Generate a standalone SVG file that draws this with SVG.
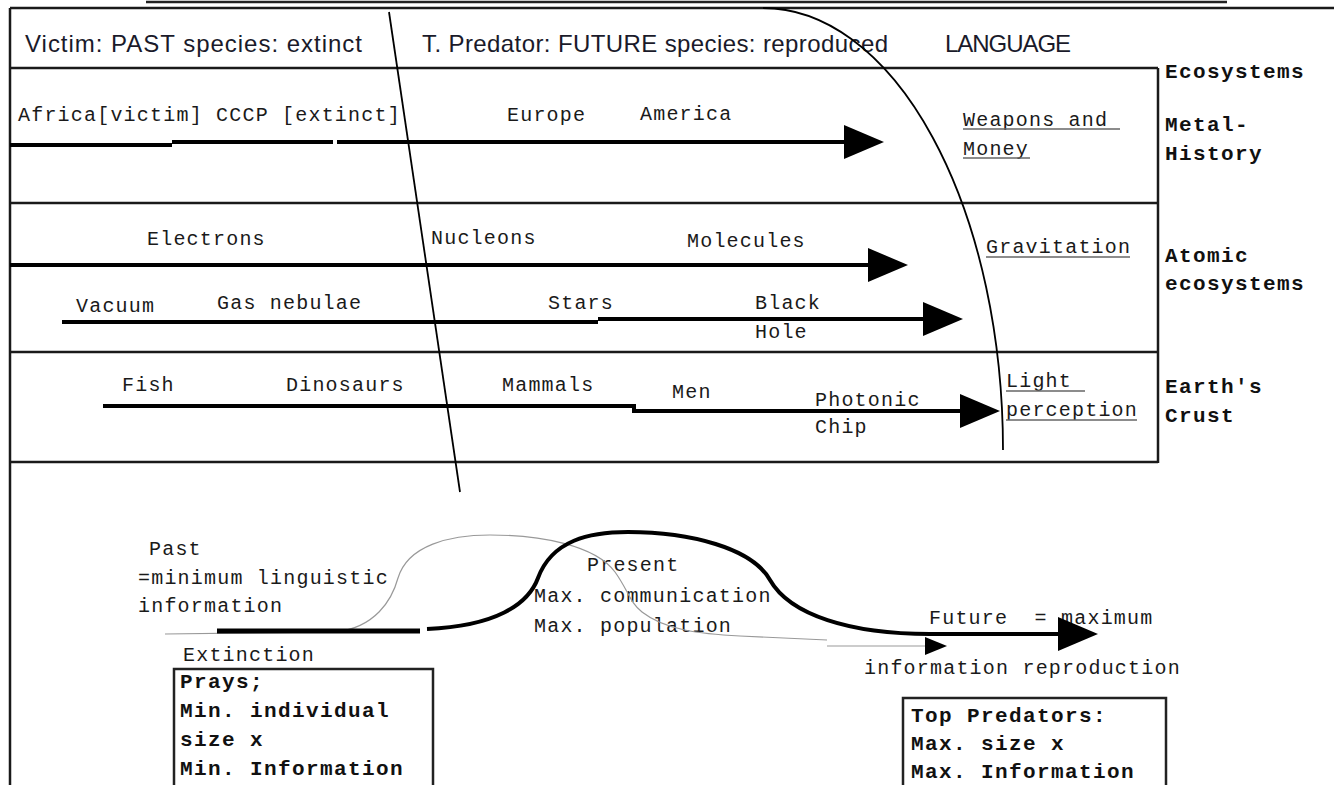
<svg xmlns="http://www.w3.org/2000/svg" width="1334" height="785" viewBox="0 0 1334 785">
<defs>
<style>
.frame{stroke:#1a1a1a;stroke-width:2.5;fill:none}
.sans{font-family:"Liberation Sans",Arial,sans-serif;font-size:24px;fill:#1a1a2a}
.mono{font-family:"Liberation Mono","Courier New",monospace;font-size:20px;letter-spacing:1.2px;fill:#1a1a1a}
.bold{font-family:"Liberation Mono","Courier New",monospace;font-size:21px;font-weight:bold;letter-spacing:1.4px;fill:#111}
.arrow{stroke:#000;stroke-width:4;fill:none}
.thin{stroke:#000;stroke-width:1.8;fill:none}
.faint{stroke:#999;stroke-width:1.2;fill:none}
.ul{stroke:#666;stroke-width:1.5}
</style>
<marker id="ah" markerUnits="userSpaceOnUse" viewBox="0 0 40 34" markerWidth="40" markerHeight="34" refX="0" refY="17" orient="auto">
<polygon points="0,0 40,17 0,34" fill="#000"/>
</marker>
<marker id="ahs" markerUnits="userSpaceOnUse" viewBox="0 0 22 18" markerWidth="22" markerHeight="18" refX="0" refY="9" orient="auto">
<polygon points="0,0 22,9 0,18" fill="#000"/>
</marker>
</defs>
<rect width="1334" height="785" fill="#fff"/>

<g id="frame">
<line x1="146" y1="2" x2="1227" y2="2" stroke="#222" stroke-width="2.5"/>
<line x1="10" y1="8" x2="1334" y2="8" class="frame"/>
<line x1="10" y1="8" x2="10" y2="785" class="frame"/>
<line x1="10" y1="68" x2="1158" y2="68" class="frame"/>
<line x1="1158" y1="68" x2="1158" y2="463" class="frame"/>
<line x1="10" y1="203" x2="1158" y2="203" class="frame"/>
<line x1="10" y1="352" x2="1158" y2="352" class="frame"/>
<line x1="10" y1="462" x2="1158" y2="462" class="frame"/>
</g>

<g id="header">
<text class="sans" x="25" y="52" textLength="337">Victim: PAST species: extinct</text>
<text class="sans" x="422" y="52" textLength="466">T. Predator: FUTURE species: reproduced</text>
<text class="sans" x="945" y="52" textLength="126">LANGUAGE</text>
</g>

<g id="side-labels">
<text class="bold" x="1165" y="78">Ecosystems</text>
<text class="bold" x="1165" y="131">Metal-</text>
<text class="bold" x="1165" y="160">History</text>
<text class="bold" x="1165" y="262">Atomic</text>
<text class="bold" x="1165" y="290">ecosystems</text>
<text class="bold" x="1165" y="393">Earth's</text>
<text class="bold" x="1165" y="422">Crust</text>
</g>

<g id="row-metal">
<text class="mono" x="18" y="121">Africa[victim] CCCP [extinct]</text>
<text class="mono" x="507" y="121">Europe</text>
<text class="mono" x="640" y="120">America</text>
<text class="mono" x="963" y="126">Weapons and</text>
<text class="mono" x="963" y="155">Money</text>
<line x1="963" y1="129" x2="1120" y2="129" class="ul"/>
<line x1="963" y1="158" x2="1030" y2="158" class="ul"/>
</g>

<g id="row-atomic">
<text class="mono" x="147" y="245">Electrons</text>
<text class="mono" x="431" y="244">Nucleons</text>
<text class="mono" x="687" y="247">Molecules</text>
<text class="mono" x="986" y="253">Gravitation</text>
<line x1="986" y1="257" x2="1130" y2="257" class="ul"/>
<text class="mono" x="76" y="312">Vacuum</text>
<text class="mono" x="217" y="309">Gas nebulae</text>
<text class="mono" x="548" y="309">Stars</text>
<text class="mono" x="755" y="309">Black</text>
<text class="mono" x="755" y="338">Hole</text>
</g>

<g id="row-crust">
<text class="mono" x="122" y="391">Fish</text>
<text class="mono" x="286" y="391">Dinosaurs</text>
<text class="mono" x="502" y="391">Mammals</text>
<text class="mono" x="672" y="398">Men</text>
<text class="mono" x="815" y="406">Photonic</text>
<text class="mono" x="815" y="433">Chip</text>
<text class="mono" x="1006" y="387">Light</text>
<text class="mono" x="1006" y="416">perception</text>
<line x1="1006" y1="391" x2="1085" y2="391" class="ul"/>
<line x1="1006" y1="420" x2="1137" y2="420" class="ul"/>
</g>

<g id="lower-labels">
<text class="mono" x="149" y="555">Past</text>
<text class="mono" x="138" y="584">=minimum linguistic</text>
<text class="mono" x="138" y="612">information</text>
<text class="mono" x="183" y="661">Extinction</text>
<text class="mono" x="587" y="571">Present</text>
<text class="mono" x="534" y="602">Max. communication</text>
<text class="mono" x="534" y="632">Max. population</text>
<text class="mono" x="929" y="624" style="white-space:pre">Future  = maximum</text>
<text class="mono" x="864" y="674">information reproduction</text>
</g>

<g id="box-prays">
<rect x="174" y="669" width="259" height="130" fill="none" stroke="#222" stroke-width="2.5"/>
<text class="bold" x="180" y="688">Prays;</text>
<text class="bold" x="180" y="717">Min. individual</text>
<text class="bold" x="180" y="746">size x</text>
<text class="bold" x="180" y="775">Min. Information</text>
</g>

<g id="box-predators">
<rect x="903" y="698" width="263" height="100" fill="none" stroke="#222" stroke-width="2.5"/>
<text class="bold" x="911" y="722">Top Predators:</text>
<text class="bold" x="911" y="750">Max. size x</text>
<text class="bold" x="911" y="778">Max. Information</text>
</g>

<g id="connectors">
<path class="arrow" d="M10 145 L172 145 M172 142 L333 142"/>
<path class="arrow" d="M337 142 L844 142" marker-end="url(#ah)"/>
<path class="arrow" d="M10 265 L868 265" marker-end="url(#ah)"/>
<path class="arrow" d="M62 322 L598 322"/>
<path class="arrow" d="M598 319 L923 319" marker-end="url(#ah)"/>
<path class="arrow" d="M103 406 L634 406 L634 411 L960 411" marker-end="url(#ah)"/>
<line class="thin" x1="389" y1="12" x2="460" y2="492"/>
<path class="thin" d="M763 8 A240 442 0 0 1 1003 450"/>
<path class="faint" d="M165 634 L335 632 C375 628 392 600 398 578 C408 545 450 535 490 535 C540 535 595 545 615 572 C628 590 630 603 642 612 C665 630 700 634 740 636 L827 640"/>
<path class="faint" d="M827 646 L925 646" marker-end="url(#ahs)"/>
<line x1="217" y1="631" x2="420" y2="631" stroke="#000" stroke-width="5"/>
<path class="arrow" d="M427 629 C495 626 528 605 538 578 C552 540 590 532 628 532 C690 532 752 548 770 580 C790 615 850 634 930 634 L1058 634" marker-end="url(#ah)"/>
</g>
</svg>
